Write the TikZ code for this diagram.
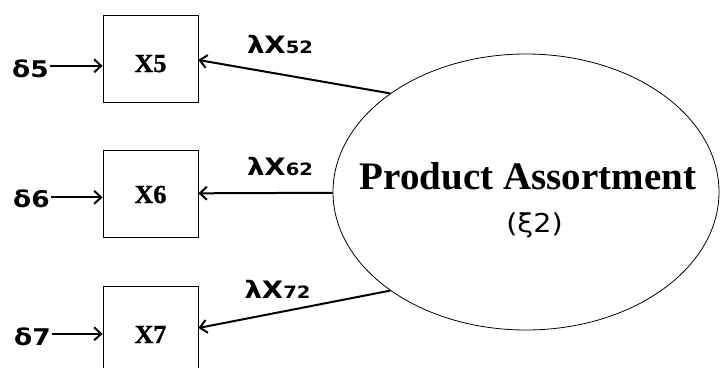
\documentclass[tikz,border=0pt]{standalone}
\usepackage{fontspec}
\setmainfont{Liberation Serif}
\newfontface\boxbold[FakeBold=1.2]{Liberation Serif Bold}
\newfontface\sansbold{DejaVu Sans Bold}
\newfontface\sansbook{DejaVu Sans}
\newcommand\stretchtext[2]{\scalebox{#1}[1]{#2}}
\usetikzlibrary{arrows.meta,shapes.geometric}
\begin{document}
\begin{tikzpicture}[x=1pt,y=-1pt,
  indicator/.style={draw, line width=0.8pt, minimum width=95pt, minimum height=87pt,
    inner sep=0pt, text depth=0pt, font=\boxbold\fontsize{26}{26}\selectfont},
  latent/.style={draw, ellipse, line width=0.8pt, minimum width=386pt,
    minimum height=276pt, inner sep=0pt},
  loadarrow/.style={line width=2pt, -{Straight Barb[length=7pt,width=13pt]}},
  errarrow/.style={line width=2pt, -{Straight Barb[length=7pt,width=13pt]}},
  errlabel/.style={font=\sansbold\fontsize{23}{23}\selectfont, inner sep=0pt, anchor=base},
  coef/.style={font=\sansbold\fontsize{24}{24}\selectfont, inner sep=0pt, anchor=base}
]
\useasboundingbox (0,0) rectangle (720,367);
\clip (0,0) rectangle (720,367);

% observed indicators (text height sets the baseline inside each box)
\node[indicator, text height=27pt] (x5) at (150.5,58.5) {X5};
\node[indicator, text height=19pt] (x6) at (150.5,193.5) {X6};
\node[indicator, text height=25pt, minimum height=89pt] (x7) at (150.5,330.5) {X7};

% latent construct
\node[latent] (pa) at (526,192) {};
\node[font=\bfseries\fontsize{39}{39}\selectfont, inner sep=0pt, anchor=base] (patitle) at (528,189) {Product Assortment};
\node[font=\sansbook\fontsize{26}{26}\selectfont, inner sep=0pt, anchor=base] (pasym) at (534.5,232) {\stretchtext{1.1}{(ξ2)}};

% measurement errors
\node[errlabel] (d5) at (30.5,77) {\stretchtext{1.15}{δ5}};
\node[errlabel] (d6) at (31.5,207) {\stretchtext{1.15}{δ6}};
\node[errlabel] (d7) at (32.5,345) {\stretchtext{1.15}{δ7}};
\draw[errarrow] ([xshift=1.5pt,yshift=2.5pt]d5.east) -- ([yshift=2.5pt]d5.east -| x5.west);
\draw[errarrow] ([xshift=1.5pt,yshift=1pt]d6.east) -- ([yshift=1pt]d6.east -| x6.west);
\draw[errarrow] ([xshift=1.5pt,yshift=2.5pt]d7.east) -- ([yshift=2.5pt]d7.east -| x7.west);

% factor loadings
\draw[loadarrow] (pa.144) -- ([yshift=-1.5pt]x5.east);
\draw[loadarrow] (pa) -- (x6);
\draw[loadarrow] (pa.216) -- ([yshift=2.5pt]x7.east);

\node[coef] (l52) at (280,53) {\stretchtext{1.15}{λX{\fontsize{17}{17}\selectfont 52}}};
\node[coef] (l62) at (280,175) {\stretchtext{1.15}{λX{\fontsize{17}{17}\selectfont 62}}};
\node[coef] (l72) at (277.5,298) {\stretchtext{1.15}{λX{\fontsize{17}{17}\selectfont 72}}};
\end{tikzpicture}
\end{document}
